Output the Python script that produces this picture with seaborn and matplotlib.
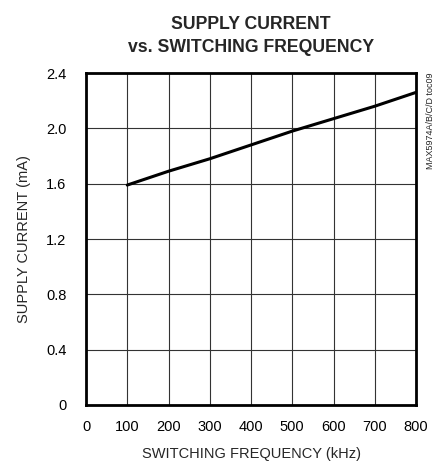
import numpy as np
import pandas as pd
import seaborn as sns
import matplotlib.pyplot as plt

# data
freq_khz = [100, 200, 300, 400, 500, 600, 700, 800]
supply_ma = [1.59, 1.69, 1.78, 1.88, 1.98, 2.07, 2.16, 2.26]
x_ticks = [0, 100, 200, 300, 400, 500, 600, 700, 800]
y_ticks = [0, 0.4, 0.8, 1.2, 1.6, 2.0, 2.4]
y_labels = ['0', '0.4', '0.8', '1.2', '1.6', '2.0', '2.4']

df = pd.DataFrame({'freq': freq_khz, 'current': supply_ma})

sns.set_style("white")
plt.rcParams['font.family'] = ['Liberation Sans', 'DejaVu Sans']

fig = plt.figure(figsize=(4.42, 4.61), dpi=100)
ax = fig.add_axes([0.1946, 0.1215, 0.7466, 0.7201])

sns.lineplot(x='freq', y='current', data=df, color='black', linewidth=2.2, ax=ax)

ax.set_xlim(0, 800)
ax.set_ylim(0, 2.4)
ax.set_xticks(x_ticks)
ax.set_yticks(y_ticks)
ax.set_yticklabels(y_labels)
ax.tick_params(length=0, labelsize=10.5, colors='black')
ax.tick_params(axis='x', pad=11)
ax.tick_params(axis='y', pad=14)
ax.grid(True, color='#333333', linewidth=0.8)
for s in ax.spines.values():
    s.set_linewidth(2)
    s.set_color('black')

ax.set_xlabel('SWITCHING FREQUENCY (kHz)', fontsize=10.5, labelpad=9)
ax.set_ylabel('SUPPLY CURRENT (mA)', fontsize=10.5, labelpad=11)
ax.set_title('SUPPLY CURRENT\nvs. SWITCHING FREQUENCY', fontsize=12.7,
             fontweight='bold', pad=15, linespacing=1.5)

fig.text(0.973, 0.842, 'MAX5974A/B/C/D toc09', rotation=90, fontsize=6.5,
         ha='center', va='top')

plt.savefig('out.png', dpi=100)
